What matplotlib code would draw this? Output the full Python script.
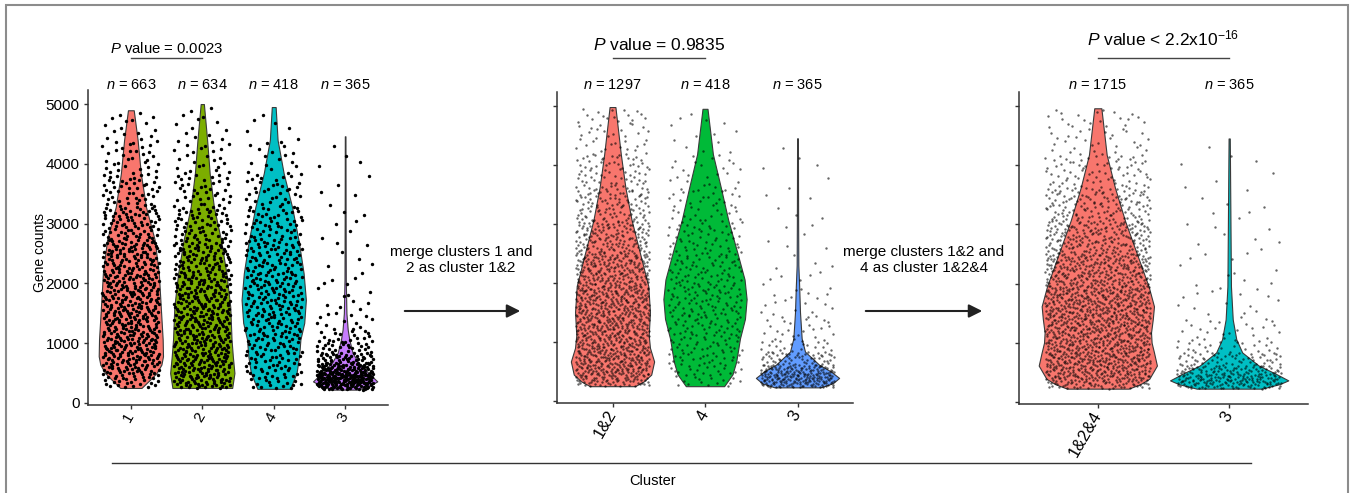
import numpy as np
import matplotlib.pyplot as plt
from matplotlib.transforms import blended_transform_factory
from matplotlib.patches import Rectangle, FancyArrowPatch
from matplotlib.lines import Line2D

plt.rcParams['font.family'] = ['Liberation Sans', 'DejaVu Sans']
plt.rcParams['mathtext.fontset'] = 'custom'
plt.rcParams['mathtext.rm'] = 'Liberation Sans'
plt.rcParams['mathtext.it'] = 'Liberation Sans:italic'

# ---- data ----
# violin outlines: gene-count levels and relative half width (1 = widest)
p1_labels = ['1', '2', '4', '3']
p1_n = [663, 634, 418, 365]
p1_colors = ['#F8766D', '#7CAE00', '#00BFC4', '#C77CFF']
c1_y = [250, 400, 500, 640, 780, 1060, 1610, 2170, 2730, 3280, 3840, 4400, 4896]
c1_w = [0.33, 0.62, 0.80, 0.95, 1.00, 0.99, 0.93, 0.87, 0.74, 0.47, 0.31, 0.21, 0.09]
c2_y = [250, 500, 780, 1060, 1610, 2170, 2730, 3280, 3840, 4400, 5000]
c2_w = [0.93, 1.00, 0.95, 0.91, 0.87, 0.75, 0.58, 0.36, 0.23, 0.15, 0.05]
c4_y = [235, 500, 780, 1060, 1340, 1725, 2170, 2730, 3280, 3840, 4400, 4950]
c4_w = [0.51, 0.71, 0.79, 0.83, 0.95, 1.00, 0.93, 0.77, 0.57, 0.31, 0.12, 0.06]
c3_y = [222, 300, 360, 505, 673, 840, 1058, 1225, 1500, 2060, 3000, 4460]
c3_w = [0.40, 0.80, 1.00, 0.72, 0.41, 0.23, 0.13, 0.08, 0.04, 0.02, 0.015, 0.01]

p2_labels = ['1&2', '4', '3']
p2_n = [1297, 418, 365]
p2_colors = ['#F8766D', '#00BA38', '#619CFF']
c12_y = [250, 330, 446, 668, 900, 1113, 1502, 1947, 2503, 3060, 3616, 4180, 4980]
c12_w = [0.54, 0.75, 0.93, 1.00, 0.90, 0.87, 0.90, 0.86, 0.66, 0.46, 0.31, 0.20, 0.07]
c4b_y = [250, 450, 668, 1058, 1391, 1725, 2058, 2503, 3060, 3616, 4180, 4950]
c4b_w = [0.46, 0.66, 0.75, 0.84, 0.96, 1.00, 0.95, 0.78, 0.56, 0.38, 0.19, 0.06]
c3b_y = [230, 300, 390, 500, 613, 836, 1058, 1502, 1947, 2300, 3000, 4450]
c3b_w = [0.55, 0.85, 1.00, 0.80, 0.52, 0.18, 0.10, 0.06, 0.04, 0.02, 0.015, 0.01]

p3_labels = ['1&2&4', '3']
p3_n = [1715, 365]
p3_colors = ['#F8766D', '#00BFC4']
c124_y = [224, 300, 391, 614, 836, 1000, 1170, 1400, 1615, 1949, 2505, 3061, 3618, 4174, 4960]
c124_w = [0.52, 0.72, 0.87, 1.00, 0.95, 0.91, 0.90, 0.93, 0.95, 0.86, 0.66, 0.46, 0.29, 0.15, 0.06]
c3c_y = [224, 300, 364, 480, 614, 836, 1059, 1393, 1949, 3230, 4450]
c3c_w = [0.55, 0.85, 1.00, 0.78, 0.50, 0.22, 0.12, 0.06, 0.03, 0.02, 0.01]

p_texts = [r'$\it{P}$ value = 0.0023', r'$\it{P}$ value = 0.9835',
           r'$\it{P}$ value < 2.2x10$^{-16}$']
merge_texts = ['merge clusters 1 and\n2 as cluster 1&2',
               'merge clusters 1&2 and\n4 as cluster 1&2&4']
y_ticks = [0, 1000, 2000, 3000, 4000, 5000]

# ---- layout (pixels of the 1355x493 picture) ----
W, H = 1355, 493
fig = plt.figure(figsize=(W / 100, H / 100), dpi=100)


def fx(x):
    return x / W


def fy(y):
    return 1 - y / H


def halton(i, base):
    i = i.copy()
    f, r = 1.0, np.zeros(len(i))
    while np.any(i > 0):
        f /= base
        r += f * (i % base)
        i //= base
    return r


def cloud(y, w, n, c):
    # spread n points along the violin density, quasi-random jitter +-0.4
    y = np.asarray(y, float)
    w = np.asarray(w, float)
    seg = (w[1:] + w[:-1]) / 2 * np.diff(y)
    cdf = np.concatenate([[0], np.cumsum(seg)]) / seg.sum()
    i = np.arange(1, n + 1)
    u = halton(i, 2)
    q = halton(i, 3)
    return c + (u - 0.5) * 0.8, np.interp(q, cdf, y)


panels = [
    dict(box=(88, 388, 90, 405), labels=p1_labels, n=p1_n, colors=p1_colors,
         shapes=[(c1_y, c1_w), (c2_y, c2_w), (c4_y, c4_w), (c3_y, c3_w)],
         ptext=p_texts[0], pbase=53, psize=10.7,
         pt=dict(s=6, color='black', alpha=1), tsize=11),
    dict(box=(557, 853, 92, 403), labels=p2_labels, n=p2_n, colors=p2_colors,
         shapes=[(c12_y, c12_w), (c4b_y, c4b_w), (c3b_y, c3b_w)],
         ptext=p_texts[1], pbase=50, psize=12.5,
         pt=dict(s=3, color='black', alpha=0.6), tsize=12),
    dict(box=(1019, 1308, 92, 404), labels=p3_labels, n=p3_n, colors=p3_colors,
         shapes=[(c124_y, c124_w), (c3c_y, c3c_w)],
         ptext=p_texts[2], pbase=45, psize=12.5,
         pt=dict(s=3, color='black', alpha=0.6), tsize=12),
]

for k, p in enumerate(panels):
    l, r, t, b = p['box']
    ax = fig.add_axes([fx(l), fy(b), (r - l) / W, (b - t) / H])
    m = len(p['labels'])
    pos = np.arange(1, m + 1)
    for c, (yy, ww), col, n in zip(pos, p['shapes'], p['colors'], p['n']):
        half = 0.45 * np.asarray(ww)
        ax.fill_betweenx(yy, c - half, c + half, facecolor=col,
                         edgecolor='#3a3a3a', lw=0.8, zorder=2)
        xs, ys = cloud(yy, ww, n, c)
        ax.scatter(xs, ys, lw=0, zorder=3, **p['pt'])
    ax.set_xlim(0.4, m + 0.6)
    ax.set_ylim(-35, 5235)
    ax.set_xticks(pos)
    ax.set_xticklabels(p['labels'], rotation=60, ha='right', va='center',
                       rotation_mode='anchor', fontsize=p['tsize'])
    ax.set_yticks(y_ticks)
    if k == 0:
        ax.tick_params(axis='y', labelsize=11, pad=2)
    else:
        ax.tick_params(axis='y', labelleft=False)
    ax.tick_params(length=3, width=1, color='#333', pad=3)
    for s in ['top', 'right']:
        ax.spines[s].set_visible(False)
    for s in ['left', 'bottom']:
        ax.spines[s].set_linewidth(1.1)
        ax.spines[s].set_color('#333')

    tr = blended_transform_factory(ax.transData, fig.transFigure)
    for c, n in zip(pos, p['n']):
        ax.text(c, fy(89), r'$\it{n}$ = ' + str(n), transform=tr,
                ha='center', va='baseline', fontsize=10.5)
    ax.plot([1, 2], [fy(58), fy(58)], transform=tr, clip_on=False,
            color='#444', lw=1)
    ax.text(1.5, fy(p['pbase']), p['ptext'], transform=tr, ha='center',
            va='baseline', fontsize=p['psize'])

fig.text(fx(40), fy(252), 'Gene counts', rotation=90, ha='center',
         va='center', fontsize=10)

# merge notes with arrows
for txt, cx, x0, x1 in zip(merge_texts, [461, 924], [402, 863], [523, 985]):
    fig.text(fx(cx), fy(260), txt, ha='center', va='center', fontsize=11,
             linespacing=1.2)
    fig.patches.append(FancyArrowPatch(
        (fx(x0), fy(311)), (fx(x1), fy(311)), transform=fig.transFigure,
        arrowstyle='-|>', mutation_scale=20, lw=1.5, color='#222'))

# shared x label
fig.add_artist(Line2D([fx(112), fx(1251)], [fy(463), fy(463)], color='#333', lw=1))
fig.text(fx(653), fy(481), 'Cluster', ha='center', va='center', fontsize=10.5)

# outer frame
fig.patches.append(Rectangle((fx(6), fy(520)), fx(1342), fy(5) - fy(520),
                             transform=fig.transFigure, fill=False,
                             edgecolor='#8c8c8c', lw=1.5))

fig.savefig('out.png', dpi=100)
